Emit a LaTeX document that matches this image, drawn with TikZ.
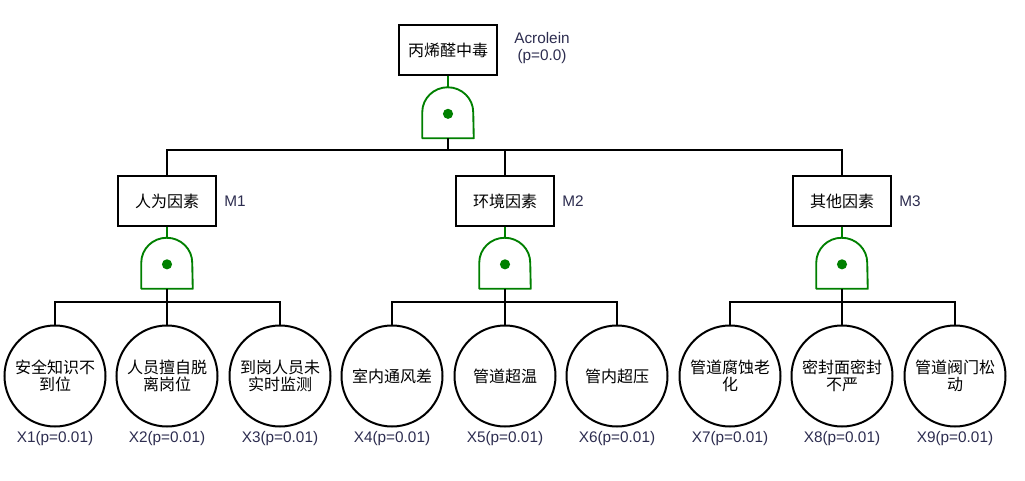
\documentclass[tikz,border=0pt]{standalone}
\usepackage{fontspec}
\setmainfont{Liberation Sans}
\newfontfamily\cjk{Noto Sans CJK SC}
\definecolor{gatecol}{RGB}{0,128,0}
\definecolor{labcol}{RGB}{45,45,80}
\newcommand\andgate[2]{%
  \node[gatebox] (#1) at (#2) {};
  \draw[gateline] (#1.south west) -- ++(0,19.5pt)
     arc[start angle=180,end angle=0,x radius=19.125pt,y radius=18.75pt]
     -- (#1.south east) -- cycle;
  \fill[gatecol] ([yshift=-1pt]#1.center) circle[radius=3.8pt];
}
\begin{document}
\begin{tikzpicture}[x=0.75pt,y=-0.75pt,
  box/.style={draw, line width=1.5pt, fill=white, minimum width=74pt, minimum height=37pt, inner sep=0, font=\cjk\fontsize{12}{12.75}\selectfont},
  leaf/.style={draw, circle, line width=1.5pt, fill=white, minimum size=75.75pt, inner sep=0, align=center, font=\cjk\fontsize{12}{12.75}\selectfont},
  gatebox/.style={minimum width=38.25pt, minimum height=38.25pt, inner sep=0, draw=none},
  gateline/.style={draw=gatecol, line width=1.4pt, line join=round},
  conn/.style={line width=1.5pt},
  gconn/.style={draw=gatecol, line width=1.4pt},
  lab/.style={text=labcol, font=\fontsize{11.5}{12.75}\selectfont, inner sep=0},
]
\fill[white] (0,0) rectangle (1025,481);
\useasboundingbox (0,0) rectangle (1025,481);

\coordinate (bus0) at (0,150);
\coordinate (bus1) at (0,302);

% top event
\node[box] (top) at (448,50) {丙烯醛中毒};
\node[lab, align=center] (acro) at (542,48.5) {Acrolein\\(p=0.0)};
\andgate{g0}{448,112.5}
\draw[gconn] (top.south) -- (g0.north);

% intermediate events
\node[box] (m1) at (167,201) {人为因素};
\node[box] (m2) at (505,201) {环境因素};
\node[box] (m3) at (842,201) {其他因素};
\node[lab, anchor=west] (m1l) at (224,201) {M1};
\node[lab, anchor=west] (m2l) at (562,201) {M2};
\node[lab, anchor=west] (m3l) at (899,201) {M3};
\foreach \m in {m1,m2,m3}
  \draw[conn] (g0.south) -- (g0.south |- bus0) -| (\m.north);

\andgate{g1}{167,263}
\andgate{g2}{505,263}
\andgate{g3}{842,263}
\draw[gconn] (m1.south) -- (g1.north);
\draw[gconn] (m2.south) -- (g2.north);
\draw[gconn] (m3.south) -- (g3.north);

% basic events
\foreach \n/\x/\t/\g in {
  1/55/{安全知识不\\到位}/g1,
  2/167/{人员擅自脱\\离岗位}/g1,
  3/280/{到岗人员未\\实时监测}/g1,
  4/392/{室内通风差}/g2,
  5/505/{管道超温}/g2,
  6/617/{管内超压}/g2,
  7/730/{管道腐蚀老\\化}/g3,
  8/842/{密封面密封\\不严}/g3,
  9/955/{管道阀门松\\动}/g3}{
  \node[leaf] (x\n) at (\x,376) {\t};
  \node[lab] (xl\n) at (\x,439) {X\n(p=0.01)};
  \draw[conn] (\g.south) -- (\g.south |- bus1) -| (x\n.north);
}
\end{tikzpicture}
\end{document}
